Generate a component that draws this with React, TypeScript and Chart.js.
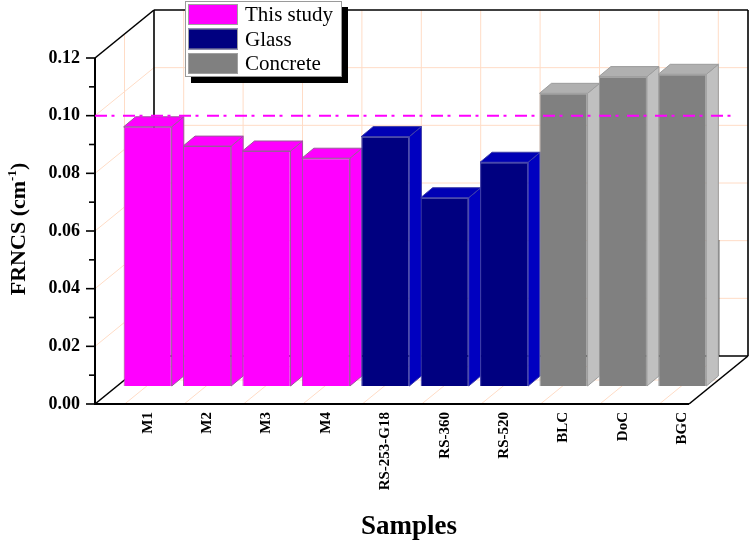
import React, { useEffect, useRef } from "react";
import { Chart, registerables } from "chart.js";

Chart.register(...registerables);

// ---------------- data ----------------
const categories = ["M1", "M2", "M3", "M4", "RS-253-G18", "RS-360", "RS-520", "BLC", "DoC", "BGC"];
const seriesNames = ["This study", "Glass", "Concrete"];
const thisStudy = [0.0899, 0.0832, 0.0815, 0.079, null, null, null, null, null, null];
const glass = [null, null, null, null, 0.0865, 0.0653, 0.0776, null, null, null];
const concrete = [null, null, null, null, null, null, null, 0.1015, 0.1073, 0.1081];
const yMin = 0;
const yMax = 0.12;
const yStep = 0.02;
const referenceValue = 0.1;

// ---------------- styles ----------------
const FACE = [
  { front: "#FF00FF", top: "#FF00FF", side: "#FF00FF", edge: "#9a5a9a" },
  { front: "#000080", top: "#0000B4", side: "#0000C0", edge: "#3c3ca8" },
  { front: "#808080", top: "#B0B0B0", side: "#C0C0C0", edge: "#9c9c9c" },
];
const BACK = { dx: 59, dy: -48 }; // front plane -> back wall
const PLANE = { dx: 23, dy: -18 }; // front plane -> bar front plane
const DEPTH = { dx: 12, dy: -10 }; // bar thickness
const GRID = "#FFDCC6";
const SERIF = '"Liberation Serif", "Times New Roman", serif';

const line = (ctx: CanvasRenderingContext2D, x1: number, y1: number, x2: number, y2: number) => {
  ctx.beginPath();
  ctx.moveTo(x1, y1);
  ctx.lineTo(x2, y2);
  ctx.stroke();
};

const pseudo3d = {
  id: "pseudo3d",
  beforeDatasetsDraw(chart: any) {
    const { ctx, chartArea: ca, scales } = chart;
    const xs = scales.x;
    const ys = scales.y;
    ctx.save();
    // ---- wall grids ----
    ctx.strokeStyle = GRID;
    ctx.lineWidth = 1;
    ys.ticks.forEach((t: any) => {
      const py = ys.getPixelForValue(t.value);
      if (t.value <= yMin || t.value >= yMax) return;
      line(ctx, ca.left + BACK.dx, py + BACK.dy, ca.right + BACK.dx, py + BACK.dy); // back wall
      line(ctx, ca.left, py, ca.left + BACK.dx, py + BACK.dy); // left wall
    });
    categories.forEach((_, i) => {
      const px = xs.getPixelForValue(i);
      line(ctx, px + BACK.dx, ca.top + BACK.dy, px + BACK.dx, ca.bottom + BACK.dy); // back wall
      line(ctx, px, ca.bottom, px + BACK.dx, ca.bottom + BACK.dy); // floor
    });
    const mx = BACK.dx / 2;
    const my = BACK.dy / 2;
    line(ctx, ca.left + mx, ca.top + my, ca.left + mx, ca.bottom + my);
    line(ctx, ca.left + mx, ca.bottom + my, ca.right + mx, ca.bottom + my);

    // ---- hidden frame edges ----
    ctx.strokeStyle = "#000";
    ctx.lineWidth = 1.6;
    line(ctx, ca.left + BACK.dx, ca.top + BACK.dy, ca.left + BACK.dx, ca.bottom + BACK.dy);
    line(ctx, ca.left + BACK.dx, ca.bottom + BACK.dy, ca.right + BACK.dx, ca.bottom + BACK.dy);
    line(ctx, ca.left, ca.bottom, ca.left + BACK.dx, ca.bottom + BACK.dy);
    line(ctx, ca.right + mx, ca.bottom - 164, ca.right + mx, ca.bottom + BACK.dy);

    // ---- bars ----
    const items: any[] = [];
    chart.data.datasets.forEach((ds: any, di: number) => {
      const meta = chart.getDatasetMeta(di);
      meta.data.forEach((el: any, i: number) => {
        if (ds.data[i] == null) return;
        items.push({ el, di });
      });
    });
    items.sort((a, b) => a.el.x - b.el.x);
    items.forEach(({ el, di }) => {
      const p = el.getProps(["x", "y", "base", "width"], true);
      const c = FACE[di];
      const left = p.x - p.width / 2 + PLANE.dx;
      const right = p.x + p.width / 2 + PLANE.dx;
      const top = p.y + PLANE.dy;
      const bottom = p.base + PLANE.dy;
      ctx.lineWidth = 1;
      ctx.strokeStyle = c.edge;
      // side face
      ctx.beginPath();
      ctx.moveTo(right, top);
      ctx.lineTo(right + DEPTH.dx, top + DEPTH.dy);
      ctx.lineTo(right + DEPTH.dx, bottom + DEPTH.dy);
      ctx.lineTo(right, bottom);
      ctx.closePath();
      ctx.fillStyle = c.side;
      ctx.fill();
      ctx.stroke();
      // top face
      ctx.beginPath();
      ctx.moveTo(left, top);
      ctx.lineTo(left + DEPTH.dx, top + DEPTH.dy);
      ctx.lineTo(right + DEPTH.dx, top + DEPTH.dy);
      ctx.lineTo(right, top);
      ctx.closePath();
      ctx.fillStyle = c.top;
      ctx.fill();
      ctx.stroke();
      // front face through the library element
      ctx.save();
      ctx.translate(PLANE.dx, PLANE.dy);
      el.draw(ctx, ca);
      ctx.restore();
    });
    ctx.restore();
    return false;
  },
  afterDraw(chart: any) {
    const { ctx, chartArea: ca, scales } = chart;
    const ys = scales.y;
    ctx.save();
    // ---- visible frame ----
    ctx.strokeStyle = "#000";
    ctx.lineWidth = 1.6;
    line(ctx, ca.left, ca.top, ca.left + BACK.dx, ca.top + BACK.dy);
    line(ctx, ca.left + BACK.dx, ca.top + BACK.dy, ca.right + BACK.dx, ca.top + BACK.dy);
    line(ctx, ca.right + BACK.dx, ca.top + BACK.dy, ca.right + BACK.dx, ca.bottom + BACK.dy);
    line(ctx, ca.right, ca.bottom, ca.right + BACK.dx, ca.bottom + BACK.dy);
    ctx.lineWidth = 2;
    line(ctx, ca.left, ca.top, ca.left, ca.bottom + 1);
    line(ctx, ca.left - 1, ca.bottom, ca.right, ca.bottom);
    // ---- y ticks ----
    ctx.lineWidth = 1.6;
    ys.ticks.forEach((t: any, i: number) => {
      const py = ys.getPixelForValue(t.value);
      line(ctx, ca.left - 9, py, ca.left, py);
      if (i < ys.ticks.length - 1) {
        const pm = ys.getPixelForValue(t.value + yStep / 2);
        line(ctx, ca.left - 6, pm, ca.left, pm);
      }
    });
    // ---- reference line ----
    const ry = ys.getPixelForValue(referenceValue);
    ctx.strokeStyle = "#FF00FF";
    ctx.lineWidth = 2;
    ctx.setLineDash([12, 4.5, 3, 8.5]);
    line(ctx, ca.left, ry, ca.right + 49, ry);
    ctx.setLineDash([]);

    // ---- legend ----
    const lx = 185, ly = 1, lw = 157, lh = 76;
    ctx.fillStyle = "#000";
    ctx.fillRect(lx + 6, ly + 6, lw, lh);
    ctx.fillStyle = "#fff";
    ctx.fillRect(lx, ly, lw, lh);
    ctx.strokeStyle = "#9a9a9a";
    ctx.lineWidth = 1;
    ctx.strokeRect(lx + 0.5, ly + 0.5, lw - 1, lh - 1);
    seriesNames.forEach((name, i) => {
      const ry0 = ly + 3 + i * 24.5;
      ctx.fillStyle = FACE[i].front;
      ctx.fillRect(lx + 3, ry0, 50, 21);
      ctx.strokeStyle = "#a0a0a0";
      ctx.strokeRect(lx + 3.5, ry0 + 0.5, 49, 20);
      ctx.fillStyle = "#000";
      ctx.font = `21px ${SERIF}`;
      ctx.textAlign = "left";
      ctx.textBaseline = "middle";
      ctx.fillText(name, lx + 60, ry0 + 11.5);
    });

    // ---- axis titles ----
    ctx.fillStyle = "#000";
    ctx.font = `bold 27px ${SERIF}`;
    ctx.textAlign = "center";
    ctx.textBaseline = "alphabetic";
    ctx.fillText("Samples", 409, 534);

    ctx.save();
    ctx.translate(25, 229);
    ctx.rotate(-Math.PI / 2);
    const main = `bold 22px ${SERIF}`;
    const sup = `bold 13px ${SERIF}`;
    ctx.font = main;
    const a = "FRNCS (cm";
    const wa = ctx.measureText(a).width;
    ctx.font = sup;
    const s = "-1";
    const ws = ctx.measureText(s).width;
    ctx.font = main;
    const b = ")";
    const wb = ctx.measureText(b).width;
    let x0 = -(wa + ws + wb) / 2;
    ctx.textAlign = "left";
    ctx.fillText(a, x0, 0);
    x0 += wa;
    ctx.font = sup;
    ctx.fillText(s, x0, -9);
    x0 += ws;
    ctx.font = main;
    ctx.fillText(b, x0, 0);
    ctx.restore();

    ctx.restore();
  },
};

export default function App() {
  const ref = useRef<HTMLCanvasElement | null>(null);
  useEffect(() => {
    document.body.style.margin = "0";
    const canvas = ref.current;
    if (!canvas) return;
    const seriesData = [thisStudy, glass, concrete];
    const chart = new Chart(canvas, {
      type: "bar",
      data: {
        labels: categories,
        datasets: seriesData.map((d, i) => ({
          label: seriesNames[i],
          data: d,
          backgroundColor: FACE[i].front,
          borderColor: FACE[i].edge,
          borderWidth: 1,
          borderSkipped: "bottom",
          grouped: false,
          barPercentage: 0.81,
          categoryPercentage: 1,
        })) as any,
      },
      options: {
        animation: false,
        responsive: true,
        maintainAspectRatio: false,
        layout: { padding: { top: 58, right: 61, left: 0, bottom: 0 } },
        plugins: { legend: { display: false }, tooltip: { enabled: false }, title: { display: false } },
        scales: {
          x: {
            type: "category",
            offset: true,
            grid: { display: false, drawTicks: false },
            border: { display: false },
            ticks: {
              autoSkip: false,
              maxRotation: 90,
              minRotation: 90,
              labelOffset: 23,
              padding: 8,
              color: "#000",
              font: { family: SERIF, size: 15, weight: "bold" },
            },
            afterFit: (scale: any) => {
              scale.height = 137;
            },
          },
          y: {
            min: yMin,
            max: yMax,
            grid: { display: false, drawTicks: false },
            border: { display: false },
            ticks: {
              stepSize: yStep,
              padding: 15,
              color: "#000",
              font: { family: SERIF, size: 18, weight: "bold" },
              callback: (v: any) => Number(v).toFixed(2),
            },
            afterFit: (scale: any) => {
              scale.width = 95;
            },
          },
        },
      } as any,
      plugins: [pseudo3d as any],
    });
    return () => chart.destroy();
  }, []);
  return (
    <div style={{ width: 750, height: 541, position: "relative" }}>
      <canvas ref={ref} />
    </div>
  );
}
